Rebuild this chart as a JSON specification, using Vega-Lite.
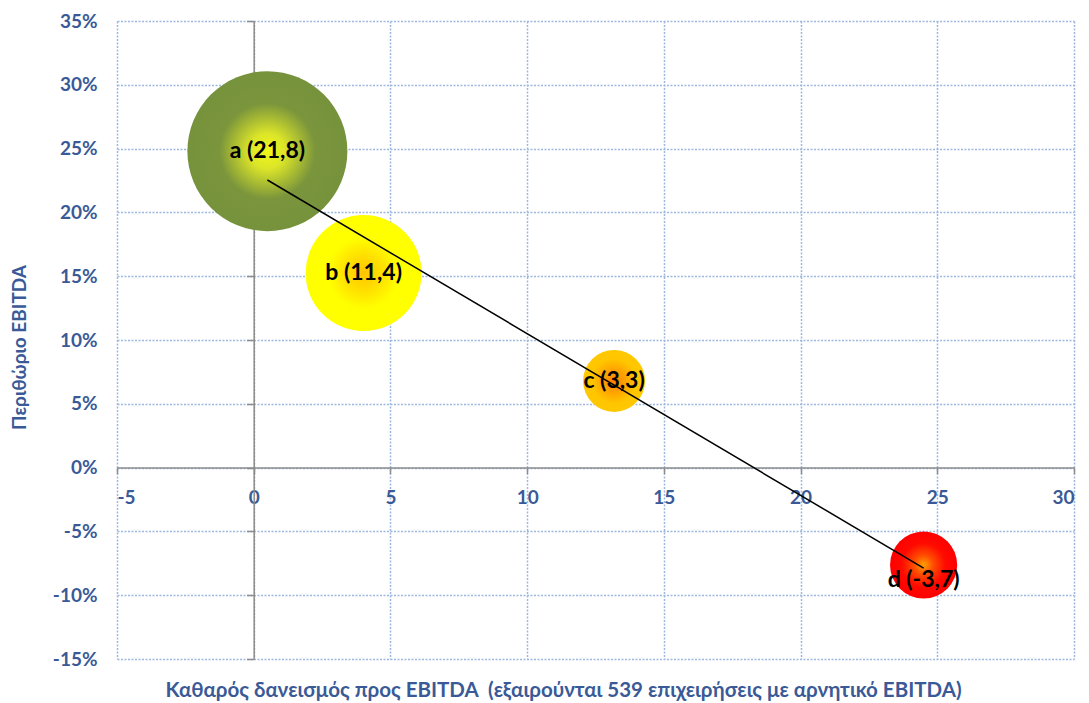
{
  "$schema": "https://vega.github.io/schema/vega-lite/v6.json",
  "width": 957,
  "height": 638,
  "autosize": {"type": "none"},
  "padding": {"left": 117, "top": 21, "right": 15, "bottom": 44},
  "background": "white",
  "config": {"view": {"stroke": null}, "font": "Lato"},
  "datasets": {
    "groups": [
      {"group": "a", "label": "a (21,8)", "leverage": 0.50, "margin": 0.248, "weight": 100},
      {"group": "b", "label": "b (11,4)", "leverage": 4.02, "margin": 0.1525, "weight": 52.6},
      {"group": "c", "label": "c (3,3)", "leverage": 13.18, "margin": 0.0679, "weight": 15.0},
      {"group": "d", "label": "d (-3,7)", "leverage": 24.5, "margin": -0.0763, "weight": 17.6}
    ]
  },
  "data": {"name": "groups"},
  "resolve": {"axis": {"y": "independent"}},
  "encoding": {
    "x": {"field": "leverage", "type": "quantitative",
      "scale": {"domain": [-5, 30], "nice": false, "zero": false}},
    "y": {"field": "margin", "type": "quantitative",
      "scale": {"domain": [-0.15, 0.35], "nice": false, "zero": false}}
  },
  "layer": [
    {
      "transform": [{"filter": "datum.group == 'a'"}],
      "mark": {"type": "point", "shape": "circle", "filled": true, "opacity": 1, "strokeWidth": 0,
        "fill": {"gradient": "radial", "x1": 0.5, "y1": 0.5, "r1": 0, "x2": 0.5, "y2": 0.5, "r2": 0.5,
          "stops": [{"offset": 0, "color": "#f0f71a"}, {"offset": 0.22, "color": "#dce528"}, {"offset": 0.6, "color": "#7a953c"}, {"offset": 1, "color": "#76923c"}]}},
      "encoding": {
        "x": {"field": "leverage", "type": "quantitative",
          "axis": {"orient": "bottom", "offset": -191.4, "values": [-5, 0, 5, 10, 15, 20, 25, 30],
            "labelExpr": "replace(datum.label, '\u2212', '-')",
            "grid": true, "gridColor": "#9db8e0", "gridDash": [2, 1.5], "gridWidth": 1.5,
            "domainColor": "#8c8c8c", "domainWidth": 1.5, "tickColor": "#8c8c8c", "tickWidth": 1.5, "tickSize": 6,
            "labelFont": "Lato", "labelFontWeight": "bold", "labelFontSize": 19, "labelColor": "#3a5a97", "labelPadding": 15,
            "title": "Καθαρός δανεισμός προς EBITDA \u00a0(εξαιρούνται 539 επιχειρήσεις με αρνητικό EBITDA)",
            "titleFont": "Lato", "titleFontWeight": "bold", "titleFontSize": 20.5, "titleColor": "#3a5a97",
            "titleX": 446, "titleY": 223, "titleBaseline": "middle", "titleAlign": "center", "titleAnchor": null}},
        "y": {"field": "margin", "type": "quantitative",
          "axis": {"orient": "left", "values": [-0.15, -0.1, -0.05, 0, 0.05, 0.1, 0.15, 0.2, 0.25, 0.3, 0.35], "format": ".0%",
            "labelExpr": "replace(datum.label, '\u2212', '-')",
            "grid": true, "gridColor": "#9db8e0", "gridDash": [2, 1.5], "gridWidth": 1.5,
            "domain": false, "ticks": false,
            "labelFont": "Lato", "labelFontWeight": "bold", "labelFontSize": 19, "labelColor": "#3a5a97", "labelPadding": 20,
            "title": "Περιθώριο EBITDA", "titleFont": "Lato", "titleFontWeight": "bold", "titleFontSize": 19, "titleColor": "#3a5a97",
            "titleX": -98, "titleY": 326, "titleBaseline": "middle", "titleAlign": "center", "titleAngle": -90}},
        "size": {"field": "weight", "type": "quantitative", "legend": null,
          "scale": {"domain": [0, 100], "range": [0, 25600], "zero": true}}
      }
    },
    {
      "transform": [{"filter": "datum.group == 'b'"}],
      "mark": {"type": "point", "shape": "circle", "filled": true, "opacity": 1, "strokeWidth": 0,
        "fill": {"gradient": "radial", "x1": 0.5, "y1": 0.5, "r1": 0, "x2": 0.5, "y2": 0.5, "r2": 0.5,
          "stops": [{"offset": 0, "color": "#ffc400"}, {"offset": 0.3, "color": "#ffdf00"}, {"offset": 0.62, "color": "#ffff00"}, {"offset": 1, "color": "#ffff00"}]}},
      "encoding": {
        "y": {"field": "margin", "type": "quantitative", "axis": null},
        "size": {"field": "weight", "type": "quantitative", "legend": null,
          "scale": {"domain": [0, 100], "range": [0, 25600], "zero": true}}
      }
    },
    {
      "transform": [{"filter": "datum.group == 'c'"}],
      "mark": {"type": "point", "shape": "circle", "filled": true, "opacity": 1, "strokeWidth": 0,
        "fill": {"gradient": "radial", "x1": 0.5, "y1": 0.5, "r1": 0, "x2": 0.5, "y2": 0.5, "r2": 0.5,
          "stops": [{"offset": 0, "color": "#ff7e00"}, {"offset": 0.4, "color": "#ffa600"}, {"offset": 0.72, "color": "#ffc600"}, {"offset": 1, "color": "#ffc800"}]}},
      "encoding": {
        "y": {"field": "margin", "type": "quantitative", "axis": null},
        "size": {"field": "weight", "type": "quantitative", "legend": null,
          "scale": {"domain": [0, 100], "range": [0, 25600], "zero": true}}
      }
    },
    {
      "transform": [{"filter": "datum.group == 'd'"}],
      "mark": {"type": "point", "shape": "circle", "filled": true, "opacity": 1, "strokeWidth": 0,
        "fill": {"gradient": "radial", "x1": 0.5, "y1": 0.5, "r1": 0, "x2": 0.5, "y2": 0.5, "r2": 0.5,
          "stops": [{"offset": 0, "color": "#ffa000"}, {"offset": 0.3, "color": "#ff4a00"}, {"offset": 0.65, "color": "#ff0a00"}, {"offset": 1, "color": "#ff0000"}]}},
      "encoding": {
        "y": {"field": "margin", "type": "quantitative", "axis": null},
        "size": {"field": "weight", "type": "quantitative", "legend": null,
          "scale": {"domain": [0, 100], "range": [0, 25600], "zero": true}}
      }
    },
    {
      "transform": [{"regression": "margin", "on": "leverage", "method": "linear"}],
      "mark": {"type": "line", "color": "#000000", "strokeWidth": 1.5},
      "encoding": {
        "y": {"field": "margin", "type": "quantitative",
          "axis": {"orient": "left", "offset": -136.7, "values": [-0.15, -0.1, -0.05, 0, 0.05, 0.1, 0.15, 0.2, 0.25, 0.3, 0.35],
            "labels": false, "grid": false, "title": null,
            "domainColor": "#8c8c8c", "domainWidth": 1.5, "tickColor": "#8c8c8c", "tickWidth": 1.5, "tickSize": 7}}
      }
    },
    {
      "transform": [{"filter": "datum.group != 'd'"}],
      "mark": {"type": "text", "font": "Lato", "fontWeight": "bold", "fontSize": 23, "color": "#000000", "align": "center", "baseline": "middle"},
      "encoding": {
        "y": {"field": "margin", "type": "quantitative", "axis": null},
        "text": {"field": "label"}
      }
    },
    {
      "transform": [{"filter": "datum.group == 'd'"}],
      "mark": {"type": "text", "font": "Lato", "fontWeight": "bold", "fontSize": 23, "color": "#000000", "align": "center", "baseline": "middle", "dy": 15},
      "encoding": {
        "y": {"field": "margin", "type": "quantitative", "axis": null},
        "text": {"field": "label"}
      }
    }
  ]
}
